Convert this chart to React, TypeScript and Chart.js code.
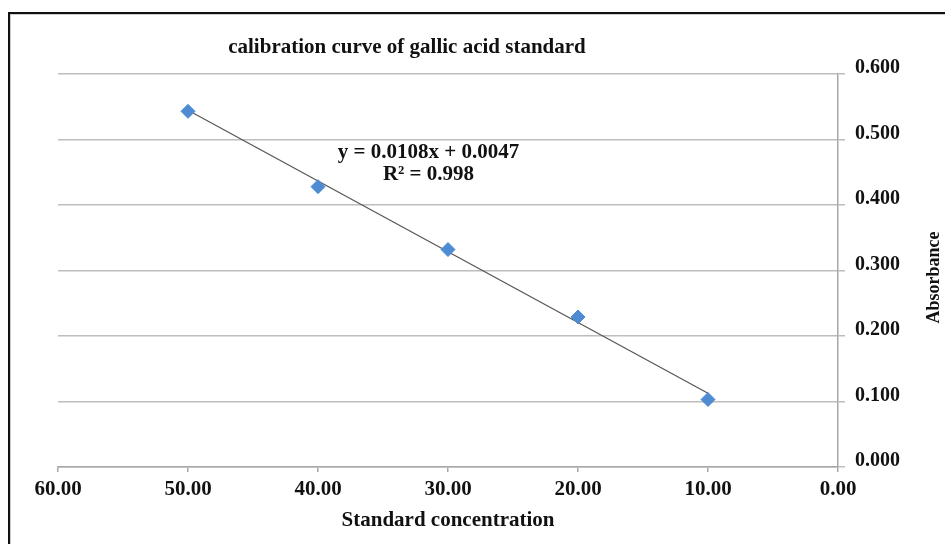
import React, { useEffect, useRef } from 'react';
import { Chart, registerables } from 'chart.js';

Chart.register(...registerables);

// ---- data ----
const concentrations = [50, 40, 30, 20, 10];
const absorbance = [0.543, 0.428, 0.332, 0.229, 0.103];
const trendX = [50, 10];
const trendY = [0.5447, 0.1127];
const xTickValues = [60, 50, 40, 30, 20, 10, 0];
const yTickValues = [0, 0.1, 0.2, 0.3, 0.4, 0.5, 0.6];
const chartTitle = 'calibration curve of gallic acid standard';
const xTitle = 'Standard concentration';
const yTitle = 'Absorbance';
const equationLines = ['y = 0.0108x + 0.0047', 'R² = 0.998'];
const equationAnchorX = 31.5;
const equationAnchorY = [0.48, 0.447];

const FONT = '"Liberation Serif", "Times New Roman", serif';

const textPlugin = {
  id: 'customTexts',
  afterDraw(chart: any) {
    const { ctx, chartArea, scales } = chart;
    ctx.save();
    ctx.fillStyle = '#111';
    ctx.textAlign = 'center';
    ctx.textBaseline = 'middle';
    ctx.font = `bold 21px ${FONT}`;
    ctx.fillText(chartTitle, chartArea.left + 349, chartArea.top - 26);

    ctx.font = `bold 21px ${FONT}`;
    const ex = scales.x.getPixelForValue(equationAnchorX);
    equationLines.forEach((line, i) => {
      ctx.fillText(line, ex, scales.y.getPixelForValue(equationAnchorY[i]));
    });

    ctx.translate(chartArea.right + 96, (chartArea.top + chartArea.bottom) / 2 + 7);
    ctx.rotate(-Math.PI / 2);
    ctx.font = `bold 18px ${FONT}`;
    ctx.fillText(yTitle, 0, 0);
    ctx.restore();
  },
};

export default function App() {
  const ref = useRef<HTMLCanvasElement | null>(null);

  useEffect(() => {
    if (!ref.current) return;
    const chart = new Chart(ref.current, {
      type: 'scatter',
      data: {
        datasets: [
          {
            label: 'trend',
            type: 'line',
            data: trendX.map((x, i) => ({ x, y: trendY[i] })),
            borderColor: '#555555',
            borderWidth: 1.2,
            pointRadius: 0,
            fill: false,
            order: 2,
          },
          {
            label: 'data',
            data: concentrations.map((x, i) => ({ x, y: absorbance[i] })),
            pointStyle: 'rectRot',
            pointRadius: 7,
            backgroundColor: '#4f8bd3',
            borderColor: '#4f8bd3',
            borderWidth: 1,
            order: 1,
          },
        ],
      },
      options: {
        animation: false,
        responsive: false,
        maintainAspectRatio: false,
        layout: { padding: { left: 58, top: 74, right: 37, bottom: 0 } },
        plugins: { legend: { display: false }, tooltip: { enabled: false }, title: { display: false } },
        scales: {
          x: {
            type: 'linear',
            position: 'bottom',
            reverse: true,
            min: 0,
            max: 60,
            afterBuildTicks: (scale: any) => {
              scale.ticks = xTickValues.map((v) => ({ value: v }));
            },
            afterFit: (scale: any) => {
              scale.height = 77;
            },
            ticks: {
              color: '#111',
              font: { family: FONT, size: 21, weight: 'bold' },
              padding: 5,
              maxRotation: 0,
              callback: (v: any) => Number(v).toFixed(2),
            },
            grid: {
              display: true,
              drawOnChartArea: false,
              drawTicks: true,
              tickLength: 5,
              color: '#a8a8a8',
              lineWidth: 1.5,
            },
            border: { display: true, color: '#a8a8a8', width: 1.5 },
            title: {
              display: true,
              text: xTitle,
              color: '#111',
              font: { family: FONT, size: 21, weight: 'bold' },
              padding: { top: 0, bottom: 11 },
            },
          },
          y: {
            type: 'linear',
            position: 'right',
            min: 0,
            max: 0.6,
            afterBuildTicks: (scale: any) => {
              scale.ticks = yTickValues.map((v) => ({ value: v }));
            },
            afterFit: (scale: any) => {
              scale.width = 70;
            },
            ticks: {
              color: '#111',
              font: { family: FONT, size: 20, weight: 'bold' },
              padding: 10,
              labelOffset: -6,
              callback: (v: any) => Number(v).toFixed(3),
            },
            grid: {
              color: '#bdbdbd',
              lineWidth: 1.5,
              drawTicks: true,
              tickLength: 7,
            },
            border: { display: true, color: '#a8a8a8', width: 1.5 },
            title: { display: false },
          },
        },
      },
      plugins: [textPlugin],
    });
    return () => chart.destroy();
  }, []);

  return (
    <div style={{ position: 'absolute', left: 0, top: 0, width: 945, height: 544, background: '#fff' }}>
      <div
        style={{
          position: 'absolute',
          left: 8,
          top: 12,
          right: 0,
          bottom: 0,
          borderTop: '2px solid #111',
          borderLeft: '2px solid #111',
          boxShadow: 'inset 1px 1px 0 #ccc',
        }}
      />
      <canvas ref={ref} width={945} height={544} style={{ position: 'absolute', left: 0, top: 0 }} />
    </div>
  );
}
